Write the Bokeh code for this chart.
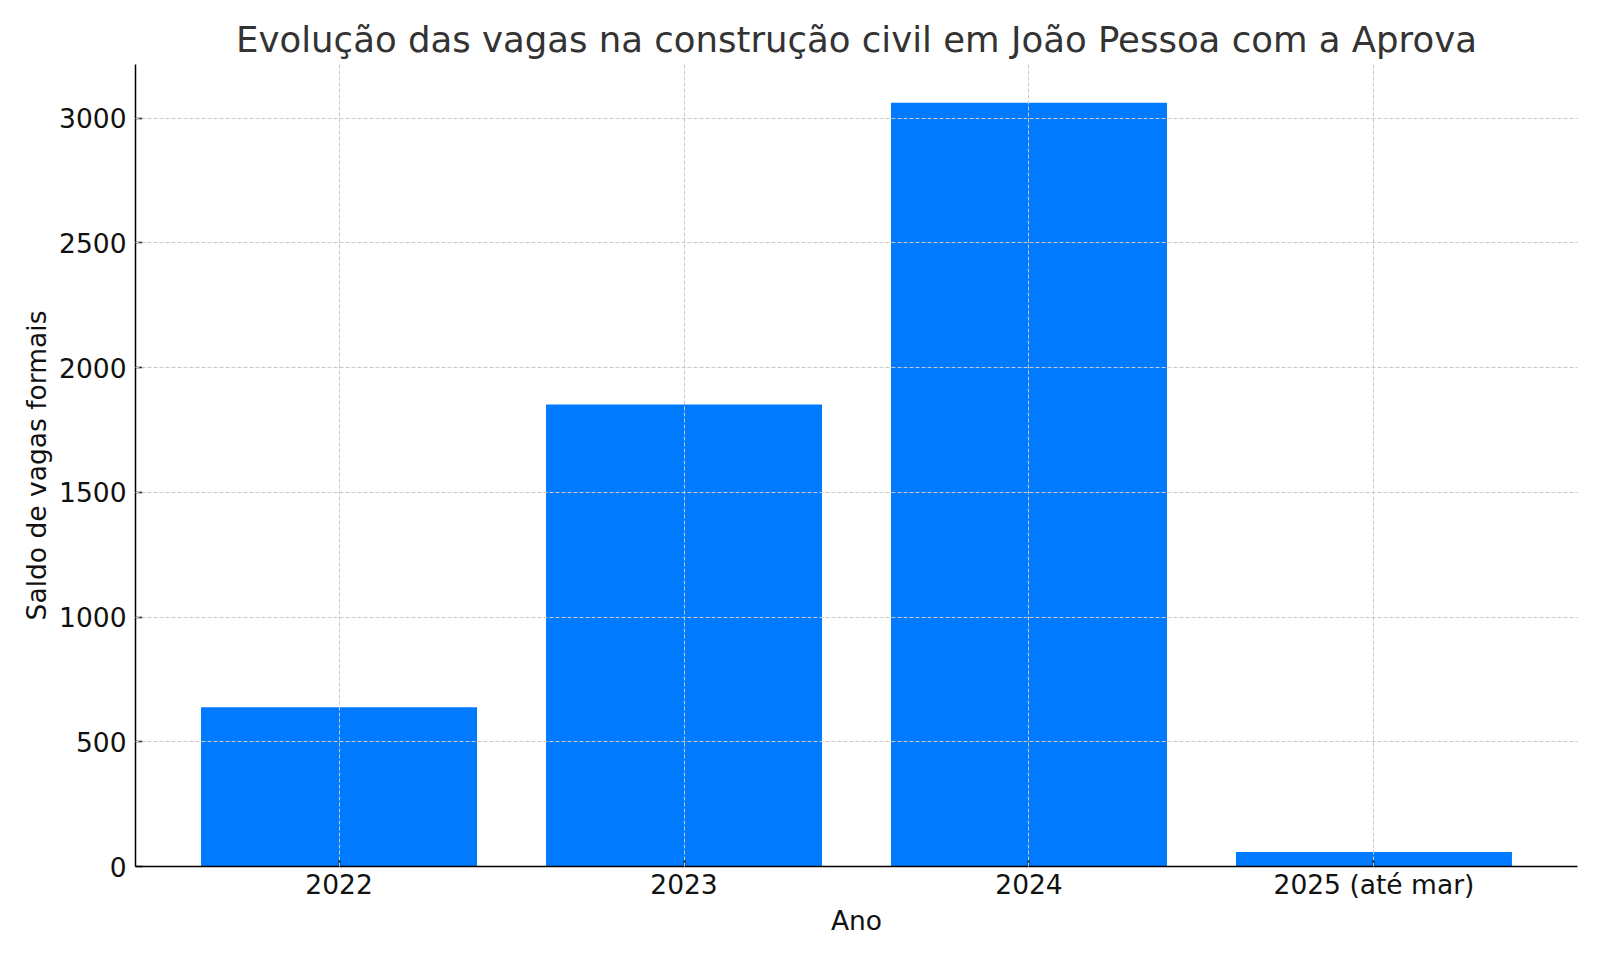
from bokeh.plotting import figure
from bokeh.models import FactorRange, Range1d, FixedTicker, ColumnDataSource
from bokeh.embed import file_html
from bokeh.resources import INLINE

categories = ["2022", "2023", "2024", "2025 (até mar)"]
saldo = [638, 1852, 3062, 58]
y_ticks = [0, 500, 1000, 1500, 2000, 2500, 3000]

title_text = "Evolução das vagas na construção civil em João Pessoa com a Aprova"
x_label = "Ano"
y_label = "Saldo de vagas formais"

FONT = "DejaVu Sans"

src = ColumnDataSource(dict(cat=categories, val=saldo))

p = figure(
    width=1584, height=944,
    x_range=FactorRange(factors=categories, range_padding=0.045, range_padding_units="percent"),
    y_range=Range1d(0, max(saldo) * 1.05),
    output_backend="svg", toolbar_location=None,
    min_border_left=135, min_border_right=7, min_border_top=64, min_border_bottom=78,
    title=title_text,
)

p.vbar(x="cat", top="val", width=0.8, source=src, fill_color="#007BFF", line_color=None)

p.outline_line_color = None
p.background_fill_color = "white"
p.border_fill_color = "white"

p.title.align = "center"
p.title.text_font = FONT
p.title.text_font_size = "35.5px"
p.title.text_font_style = "normal"
p.title.text_color = "#333333"

p.yaxis.ticker = FixedTicker(ticks=y_ticks)
for ax in (p.xaxis, p.yaxis):
    ax.axis_line_color = "black"
    ax.axis_line_width = 1.5
    ax.major_tick_in = 7
    ax.major_tick_out = 0
    ax.major_tick_line_color = "black"
    ax.major_tick_line_width = 1.5
    ax.minor_tick_line_color = None
    ax.major_label_text_font = FONT
    ax.major_label_text_font_size = "26.5px"
    ax.major_label_text_color = "#111111"
    ax.axis_label_text_font = FONT
    ax.axis_label_text_font_size = "26.5px"
    ax.axis_label_text_font_style = "normal"
    ax.axis_label_text_color = "#111111"

p.xaxis.axis_label = x_label
p.yaxis.axis_label = y_label
p.xaxis.major_label_standoff = 2
p.yaxis.major_label_standoff = 9
p.xaxis.axis_label_standoff = 2
p.yaxis.axis_label_standoff = 4

for g in (p.xgrid, p.ygrid):
    g.grid_line_color = "#c8c8c8"
    g.grid_line_width = 1
    g.grid_line_dash = "4 2"
    g.level = "overlay"
p.xgrid.ticker = p.xaxis.ticker
p.ygrid.ticker = p.yaxis.ticker

open("out.html", "w").write(file_html(p, INLINE))
